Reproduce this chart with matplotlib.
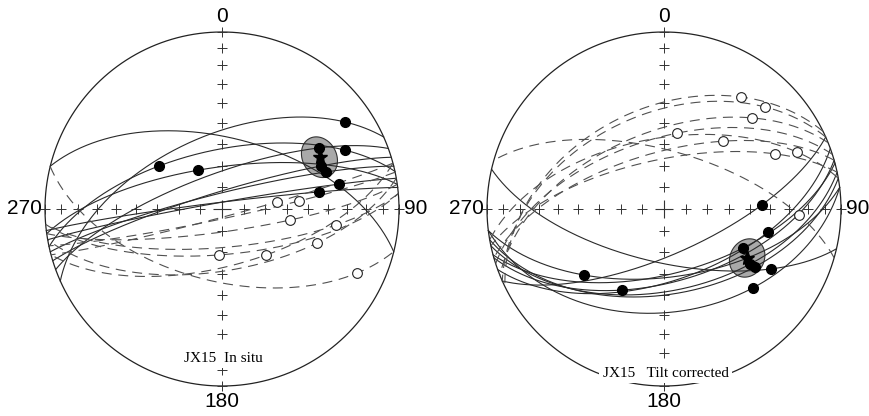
import numpy as np
import matplotlib.pyplot as plt
from matplotlib.patches import Polygon

# ---- In situ (left net) ----
# filled = lower hemisphere, open = upper hemisphere (dec, inc in degrees)
situ_fill_dec = [54.7, 57.8, 64.4, 304.3, 328.3, 66.5, 70.4, 78.0, 80.0]
situ_fill_inc = [16.0, 35.5, 24.0, 54.5, 69.0, 39.0, 37.6, 32.9, 43.7]
situ_open_dec = [82.7, 84.1, 99.2, 98.0, 109.7, 183.7, 136.2, 115.4]
situ_open_inc = [-64.4, -54.0, -58.0, -35.2, -42.4, -68.8, -60.5, -16.7]
situ_mean = (62.0, 37.5)
situ_a95 = 8.7
# great circles, each given by two directions on it: (dec1, inc1, dec2, inc2)
situ_solid = [(313, 36.6, 104, 0), (246, 0, 54.7, 16), (304.3, 54.5, 64.4, 24),
              (328.3, 69, 82, 0), (256, 0, 70.4, 37.6), (260, 0, 78, 32.9),
              (263, 0, 80, 43.7), (253, 0, 66.5, 39), (250, 0, 57.8, 35.5)]
situ_dashed = [(75, 0, 82.7, -64.4), (78, 0, 84.1, -54), (82, 0, 99.2, -58),
               (85, 0, 98, -35.2), (80, 0, 109.7, -42.4), (265, 0, 183.7, -68.8),
               (75, 0, 136.2, -60.5), (184, -56, 115.4, -16.7)]

# ---- Tilt corrected (right net) ----
tilt_fill_dec = [87.6, 102.5, 116.3, 122.6, 122.5, 119.3, 131.6, 230.5, 207.4]
tilt_fill_inc = [43.9, 39.6, 48.8, 41.8, 39.0, 31.4, 33.3, 41.0, 47.2]
tilt_open_dec = [34.5, 44.7, 44.0, 9.7, 40.9, 63.6, 66.8, 92.6]
tilt_open_inc = [-24.2, -20.0, -29.2, -54.2, -48.0, -30.6, -19.4, -24.6]
tilt_mean = (120.5, 44.5)
tilt_a95 = 8.4
tilt_solid = [(66, 0, 87.6, 43.9), (70, 0, 102.5, 39.6), (75, 0, 116.3, 48.8),
              (78, 0, 122.6, 41.8), (80, 0, 122.5, 39), (283, 0, 119.3, 31.4),
              (83, 0, 131.6, 33.3), (263, 0, 230.5, 41), (254, 0, 207.4, 47.2)]
tilt_dashed = [(64, 0, 34.5, -24.2), (66, 0, 44.7, -20), (68, 0, 44, -29.2),
               (72, 0, 9.7, -54.2), (74, 0, 40.9, -48), (78, 0, 63.6, -30.6),
               (80, 0, 66.8, -19.4), (106, 0, 92.6, -24.6)]

tick_incs = [0, 10, 20, 30, 40, 50, 60, 70, 80]


def to_xyz(dec, inc):
    d, i = np.radians(dec), np.radians(inc)
    return np.array([np.cos(i) * np.cos(d), np.cos(i) * np.sin(d), np.sin(i)])


def project(v):
    # equal-area (Schmidt) projection, upper hemisphere folded onto the lower
    v = np.atleast_2d(v.T).T
    n, e, z = v / np.linalg.norm(v, axis=0)
    colat = np.arccos(np.clip(np.abs(z), 0, 1))
    r = np.sqrt(2) * np.sin(colat / 2)
    h = np.hypot(n, e)
    h[h == 0] = 1
    return r * e / h, r * n / h


def dir_xy(dec, inc):
    return project(to_xyz(np.asarray(dec, float), np.asarray(inc, float)))


def great_circle(ax, arc, lower):
    p = np.cross(to_xyz(arc[0], arc[1]), to_xyz(arc[2], arc[3]))
    p /= np.linalg.norm(p)
    h = np.cross(p, [0, 0, 1.0])
    h /= np.linalg.norm(h)
    w = np.cross(p, h)
    if (w[2] < 0) == lower:
        w = -w
    t = np.linspace(0, np.pi, 300)
    v = np.outer(h, np.cos(t)) + np.outer(w, np.sin(t))
    x, y = project(v)
    if lower:
        ax.plot(x, y, color='#2a2a2a', lw=0.8, zorder=3)
    else:
        ax.plot(x, y, color='#505050', lw=0.8, ls=(0, (9, 6)), zorder=3)


def small_circle(dec, inc, a95):
    m = to_xyz(dec, inc)
    u = np.cross(m, [0, 0, 1.0])
    u /= np.linalg.norm(u)
    w = np.cross(m, u)
    phi = np.linspace(0, 2 * np.pi, 200)
    a = np.radians(a95)
    v = (np.outer(m, np.ones_like(phi)) * np.cos(a)
         + np.sin(a) * (np.outer(u, np.cos(phi)) + np.outer(w, np.sin(phi))))
    return project(v)


def draw_net(ax, fill_dec, fill_inc, open_dec, open_inc, mean, a95,
             solid, dashed, label, label_y):
    th = np.linspace(0, 2 * np.pi, 400)
    ax.plot(np.cos(th), np.sin(th), color='#222222', lw=0.9, zorder=2)

    # tick crosses along the N-S and E-W axes (10 degree steps)
    for az in [0, 90, 180, 270]:
        x, y = dir_xy([az] * len(tick_incs), tick_incs)
        ax.plot(x, y, ls='none', marker='+', ms=7, mew=0.7,
                color='#333333', zorder=2)
    ax.plot([0], [0], marker='+', ms=13, mew=0.8, color='#333333', zorder=2)

    # confidence circle
    ex, ey = small_circle(mean[0], mean[1], a95)
    ax.add_patch(Polygon(np.column_stack([ex, ey]), closed=True,
                         facecolor='#a9a9a9', edgecolor='#333333',
                         lw=0.8, zorder=1))

    for arc in solid:
        great_circle(ax, arc, True)
    for arc in dashed:
        great_circle(ax, arc, False)

    x, y = dir_xy(fill_dec, fill_inc)
    ax.plot(x, y, ls='none', marker='o', ms=7, mfc='black', mec='black',
            zorder=5)
    x, y = dir_xy(open_dec, open_inc)
    ax.plot(x, y, ls='none', marker='o', ms=7, mfc='white', mec='#222222',
            mew=0.8, zorder=5)
    x, y = dir_xy([mean[0]], [mean[1]])
    ax.plot(x, y, ls='none', marker='*', ms=11, color='black', zorder=6)

    lab = dict(fontsize=15, family='Liberation Sans', color='black')
    ax.text(0, 1.085, '0', ha='center', va='center', **lab)
    ax.text(0, -1.085, '180', ha='center', va='center', **lab)
    ax.text(-1.02, 0, '270', ha='right', va='center', **lab)
    ax.text(1.03, 0, '90', ha='left', va='center', **lab)
    ax.text(0.01, label_y, label, ha='center', va='center',
            fontsize=11, family='Liberation Serif', zorder=7,
            bbox=dict(facecolor='white', edgecolor='none', pad=2.5))


fig = plt.figure(figsize=(8.7, 4.16), dpi=100)
R = 177.0
ax1 = fig.add_axes([0, 0, 443 / 870, 1])
ax1.set_xlim((0 - 222) / R, (443 - 222) / R)
ax1.set_ylim((209 - 416) / R, 209 / R)
ax2 = fig.add_axes([443 / 870, 0, 427 / 870, 1])
ax2.set_xlim((443 - 664) / R, (870 - 664) / R)
ax2.set_ylim((209 - 416) / R, 209 / R)
for ax in (ax1, ax2):
    ax.axis('off')

draw_net(ax1, situ_fill_dec, situ_fill_inc, situ_open_dec, situ_open_inc,
         situ_mean, situ_a95, situ_solid, situ_dashed,
         'JX15  In situ', -0.842)
draw_net(ax2, tilt_fill_dec, tilt_fill_inc, tilt_open_dec, tilt_open_inc,
         tilt_mean, tilt_a95, tilt_solid, tilt_dashed,
         'JX15   Tilt corrected', -0.927)

fig.savefig('out.png', dpi=100)
